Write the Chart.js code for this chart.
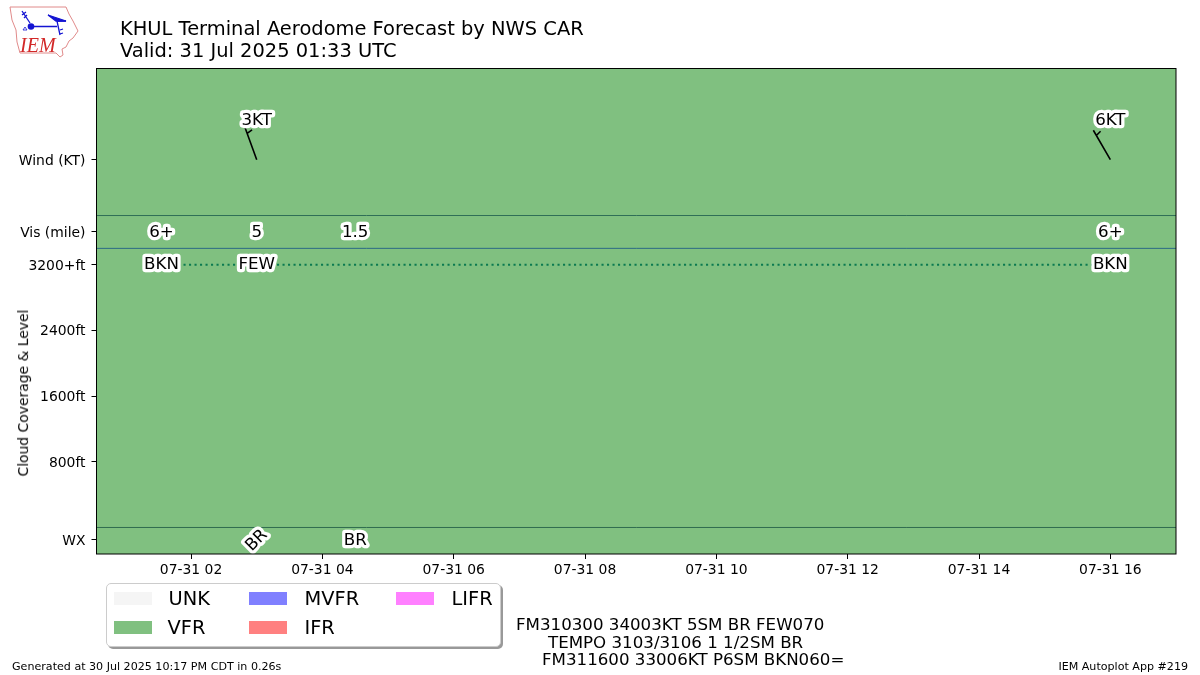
<!DOCTYPE html>
<html>
<head>
<meta charset="utf-8">
<title>KHUL Terminal Aerodome Forecast</title>
<script src="https://cdn.jsdelivr.net/npm/chart.js@4"></script>
<style>
    html, body { margin: 0; padding: 0; background: #fff; }
    body { position: relative; width: 1200px; height: 675px; overflow: hidden; font-family: "DejaVu Sans", sans-serif; color: #000; }
    #myChart { position: absolute; left: 0; top: 0; }
    .txt { position: absolute; white-space: pre; line-height: 1; }
    .title { font-size: 19.45px; left: 120px; }
    .small { font-size: 11.1px; }
    .taf { font-size: 16.67px; }
    #yTitle { font-size: 13.9px; left: 24px; top: 393px; transform: translate(-50%, -50%) rotate(-90deg); }
    #legendBox {
        position: absolute; left: 105.5px; top: 583px; width: 393px; height: 62px;
        background: #fff; border: 1px solid #ccc; border-radius: 5px; box-shadow: 2px 2px 0 #999;
    }
    .swatch { position: absolute; width: 38px; height: 13px; }
    .legendText { position: absolute; font-size: 19.4px; line-height: 1; white-space: pre; }
    #logo { position: absolute; left: 0; top: 0; }
</style>
</head>
<body>
<canvas id="myChart" width="1200" height="675"></canvas>

<svg id="logo" width="100" height="65" viewBox="0 0 100 65">
    <path d="M10 7 L66 7 L69 14 L73 21 L78 31 L73 38 L69 41 L66 47 L62 49 L63 55 L60 57 L56 53 L20 53 L17 42 L16 30 L12 20 Z" fill="none" stroke="#e08a8a" stroke-width="1"/>
    <g stroke="#1414d2" fill="none" stroke-width="1.3">
        <path d="M31 26.5 L57 26.5 M57 21 L60 35 M57 21 L66 21 M22 11 L30 23 M22 15 L26 12 M24 18 L27 15 M60 30 L63 29 M60 34 L63 33"/>
        <path d="M48 15 L57 18 L66 21 L56 21 Z" fill="#1414d2"/>
        <path d="M25 27 L27 30 L23 30 Z" stroke-width="0.8"/>
    </g>
    <circle cx="31" cy="26.5" r="3.3" fill="#1414d2"/>
    <text x="20" y="52" font-family="Liberation Serif" font-style="italic" font-size="20" fill="#d22828">IEM</text>
</svg>

<div class="txt title" style="top:19px">KHUL Terminal Aerodome Forecast by NWS CAR</div>
<div class="txt title" style="top:41px">Valid: 31 Jul 2025 01:33 UTC</div>
<div class="txt" id="yTitle">Cloud Coverage &amp; Level</div>
<div id="legendBox"></div>
<div class="txt taf" style="left:516px;top:617px">FM310300 34003KT 5SM BR FEW070</div>
<div class="txt taf" style="left:548px;top:635px">TEMPO 3103/3106 1 1/2SM BR</div>
<div class="txt taf" style="left:542px;top:652px">FM311600 33006KT P6SM BKN060=</div>
<div class="txt small" style="left:12px;top:661px">Generated at 30 Jul 2025 10:17 PM CDT in 0.26s</div>
<div class="txt small" style="right:12px;top:661px">IEM Autoplot App #219</div>

<script>
// axis stuff, x is hours after 00Z on 07-31
const xMin = 0.56;
const xMax = 17;
const yMin = -323;
const yMax = 5591;
const xTicks = [2, 4, 6, 8, 10, 12, 14, 16];
const xTickLabels = ["07-31 02", "07-31 04", "07-31 06", "07-31 08", "07-31 10", "07-31 12", "07-31 14", "07-31 16"];
const yTicks = [-150, 800, 1600, 2400, 3200, 3600, 4480];
const yTickLabels = ["WX", "800ft", "1600ft", "2400ft", "3200+ft", "Vis (mile)", "Wind (KT)"];

// dividing lines between the rows
const rowLines = [0, 3400, 3800];
const rowLineColors = ["#2f6b4f", "#2b6a85", "#2f6f57"];

// wind
const windHours = [3, 16];
const windDir = [340, 330];
const windSpeed = [3, 6];
const windLabels = ["3KT", "6KT"];
const windY = 4480;
const windLabelY = 4960;

// visibility
const visHours = [1.55, 3, 4.5, 16];
const visLabels = ["6+", "5", "1.5", "6+"];
const visY = 3590;

// clouds
const cloudHours = [1.55, 3, 16];
const cloudLevels = [3200, 3200, 3200];
const cloudLabels = ["BKN", "FEW", "BKN"];

// present weather
const wxHours = [3, 4.5];
const wxLabels = ["BR", "BR"];
const wxRotation = [-45, 0];
const wxY = -160;

// flight category bands
const categories = ["UNK", "VFR", "MVFR", "IFR", "LIFR"];
const categoryColors = ["#f5f5f5", "#80c080", "#8080ff", "#ff8080", "#ff80ff"];

const legendSpots = [[7, 8], [7, 37], [142, 8], [142, 37], [289, 8]];
const legendTextX = [62, 61, 198, 198, 345];

// builds the legend box from the category lists
function buildLegend() {
    const box = document.getElementById("legendBox");
    categories.forEach((name, i) => {
        const swatch = document.createElement("div");
        swatch.className = "swatch";
        swatch.style.left = legendSpots[i][0] + "px";
        swatch.style.top = legendSpots[i][1] + "px";
        swatch.style.background = categoryColors[i];
        box.appendChild(swatch);

        const label = document.createElement("div");
        label.className = "legendText";
        label.textContent = name;
        label.style.left = legendTextX[i] + "px";
        label.style.top = (legendSpots[i][1] - 3) + "px";
        box.appendChild(label);
    });
}

function haloText(ctx, text, x, y, rotation) {
    ctx.save();
    ctx.translate(x, y);
    ctx.rotate(rotation * Math.PI / 180);
    ctx.font = '16.67px "DejaVu Sans"';
    ctx.textAlign = "center";
    ctx.textBaseline = "middle";
    ctx.lineJoin = "round";
    ctx.lineWidth = 6.5;
    ctx.strokeStyle = "#fff";
    ctx.strokeText(text, 0, 0);
    ctx.fillStyle = "#000";
    ctx.fillText(text, 0, 0);
    ctx.restore();
}

// staff points where the wind comes from, one half barb near the tip
function windBarb(ctx, x, y, dir) {
    const staff = 34;
    const rad = dir * Math.PI / 180;
    const tipX = x + Math.sin(rad) * staff;
    const tipY = y - Math.cos(rad) * staff;
    const barbBaseX = x + Math.sin(rad) * (staff - 6);
    const barbBaseY = y - Math.cos(rad) * (staff - 6);
    const barbRad = rad + 75 * Math.PI / 180;
    ctx.save();
    ctx.strokeStyle = "#000";
    ctx.lineWidth = 1.6;
    ctx.beginPath();
    ctx.moveTo(x, y);
    ctx.lineTo(tipX, tipY);
    ctx.moveTo(barbBaseX, barbBaseY);
    ctx.lineTo(barbBaseX + Math.sin(barbRad) * 6, barbBaseY - Math.cos(barbRad) * 6);
    ctx.stroke();
    ctx.restore();
}

const tafLabels = {
    id: "tafLabels",
    afterDatasetsDraw(chart) {
        const ctx = chart.ctx;
        const x = chart.scales.x;
        const y = chart.scales.y;
        const area = chart.chartArea;

        windHours.forEach((h, i) => {
            windBarb(ctx, x.getPixelForValue(h), y.getPixelForValue(windY), windDir[i]);
            haloText(ctx, windLabels[i], x.getPixelForValue(h), y.getPixelForValue(windLabelY), 0);
        });
        visHours.forEach((h, i) => {
            haloText(ctx, visLabels[i], x.getPixelForValue(h), y.getPixelForValue(visY), 0);
        });
        cloudHours.forEach((h, i) => {
            haloText(ctx, cloudLabels[i], x.getPixelForValue(h), y.getPixelForValue(cloudLevels[i]), 0);
        });
        wxHours.forEach((h, i) => {
            haloText(ctx, wxLabels[i], x.getPixelForValue(h), y.getPixelForValue(wxY), wxRotation[i]);
        });

        // box around the plot
        ctx.save();
        ctx.strokeStyle = "#000";
        ctx.lineWidth = 1;
        ctx.strokeRect(area.left, area.top, area.right - area.left, area.bottom - area.top);
        ctx.restore();
    }
};

function graphIt() {
    const datasets = [];

    // whole forecast period is VFR, high order so it goes behind the lines
    datasets.push({
        label: "VFR",
        data: [{ x: xMin, y: yMax }, { x: xMax, y: yMax }],
        borderWidth: 0,
        pointRadius: 0,
        backgroundColor: categoryColors[1],
        fill: { value: yMin },
        order: 10
    });

    rowLines.forEach((level, i) => {
        datasets.push({
            label: "row" + i,
            data: [{ x: xMin, y: level }, { x: xMax, y: level }],
            borderColor: rowLineColors[i],
            borderWidth: 1,
            pointRadius: 0,
            fill: false,
            order: 2
        });
    });

    datasets.push({
        label: "Clouds",
        data: cloudHours.map((h, i) => ({ x: h, y: cloudLevels[i] })),
        borderColor: "#0b7a50",
        borderWidth: 2.1,
        borderDash: [2.1, 3.4],
        pointRadius: 0,
        fill: false,
        order: 1
    });

    const ctx = document.getElementById("myChart").getContext("2d");
    new Chart(ctx, {
        type: "line",
        data: { datasets: datasets },
        plugins: [tafLabels],
        options: {
            responsive: false,
            animation: false,
            devicePixelRatio: 1,
            layout: { padding: { left: 6, top: 68.5, right: 24, bottom: 91 } },
            plugins: { legend: { display: false }, title: { display: false }, tooltip: { enabled: false } },
            scales: {
                x: {
                    type: "linear",
                    min: xMin,
                    max: xMax,
                    afterFit: (scale) => { scale.height = 30; },
                    afterBuildTicks: (scale) => { scale.ticks = xTicks.map((v) => ({ value: v })); },
                    grid: { drawOnChartArea: false, drawTicks: true, tickLength: 5, color: "#000" },
                    border: { display: false },
                    ticks: {
                        autoSkip: false,
                        maxRotation: 0,
                        padding: 3,
                        color: "#000",
                        font: { family: "DejaVu Sans", size: 13.9 },
                        callback: (value) => xTickLabels[xTicks.indexOf(value)]
                    }
                },
                y: {
                    min: yMin,
                    max: yMax,
                    afterFit: (scale) => { scale.width = 90.5; },
                    afterBuildTicks: (scale) => { scale.ticks = yTicks.map((v) => ({ value: v })); },
                    grid: { drawOnChartArea: false, drawTicks: true, tickLength: 5, color: "#000" },
                    border: { display: false },
                    ticks: {
                        autoSkip: false,
                        padding: 6,
                        color: "#000",
                        // empty first line plus tiny line height nudges the label down a bit
                        font: { family: "DejaVu Sans", size: 13.9, lineHeight: 0.2 },
                        callback: (value) => ["", yTickLabels[yTicks.indexOf(value)]]
                    }
                }
            }
        }
    });
}

buildLegend();
graphIt();
</script>
</body>
</html>
